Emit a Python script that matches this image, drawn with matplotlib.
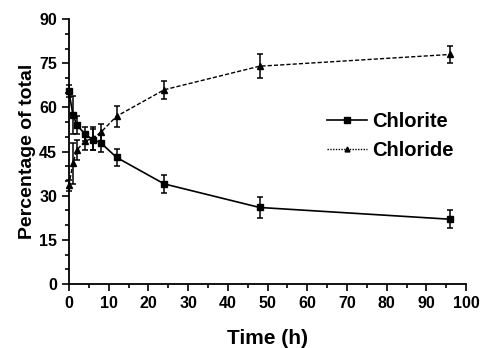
import numpy as np
import matplotlib.pyplot as plt
from matplotlib.ticker import MultipleLocator
from matplotlib.lines import Line2D

plt.rcParams['font.family'] = ['Liberation Sans', 'DejaVu Sans']
plt.rcParams['font.weight'] = 'bold'

time_h = [0, 1, 2, 4, 6, 8, 12, 24, 48, 96]
chlorite = [65.5, 57.5, 54, 51, 49, 48, 43, 34, 26, 22]
chlorite_err = [2, 6.5, 3, 2.5, 3.5, 3, 3, 3, 3.5, 3]
chloride = [33.5, 41, 45.5, 48.5, 49.5, 51.5, 57, 66, 74, 78]
chloride_err = [2, 7, 3.5, 3, 4, 3, 3.5, 3, 4, 3]

fig = plt.figure(figsize=(4.82, 3.48), dpi=100)
ax = fig.add_axes([0.143, 0.184, 0.824, 0.761])

ax.errorbar(time_h, chlorite, yerr=chlorite_err, color='black', lw=1.2,
            marker='s', ms=4.5, capsize=2.5, elinewidth=1.1, capthick=1.1,
            clip_on=False)
ax.errorbar(time_h, chloride, yerr=chloride_err, color='black', lw=1.0,
            ls=(0, (3, 1.5)), marker='^', ms=4, capsize=2.5, elinewidth=1.1,
            capthick=1.1, clip_on=False)

ax.set_xlim(0, 100)
ax.set_ylim(0, 90)
ax.xaxis.set_major_locator(MultipleLocator(10))
ax.xaxis.set_minor_locator(MultipleLocator(5))
ax.yaxis.set_major_locator(MultipleLocator(15))
ax.yaxis.set_minor_locator(MultipleLocator(5))
ax.tick_params(which='major', length=5, width=1.2, labelsize=11.5)
ax.tick_params(which='minor', length=3, width=1.2)
for s in ['top', 'right']:
    ax.spines[s].set_visible(False)
for s in ['left', 'bottom']:
    ax.spines[s].set_linewidth(1.3)

ax.set_xlabel('Time (h)', fontsize=15, fontweight='bold', labelpad=13)
ax.set_ylabel('Percentage of total', fontsize=14, fontweight='bold', labelpad=2)

handles = [Line2D([], [], color='black', lw=1.2, marker='s', ms=4),
           Line2D([], [], color='black', lw=1.0, ls=(0, (1, 1)), marker='^', ms=3.5)]
fig.legend(handles, ['Chlorite', 'Chloride'], loc='upper left',
           bbox_to_anchor=(0.678, 0.678), frameon=False, fontsize=14.5,
           handlelength=2.0, labelspacing=0.5, handletextpad=0.25,
           borderpad=0, borderaxespad=0)

fig.savefig('out.png', dpi=100)
